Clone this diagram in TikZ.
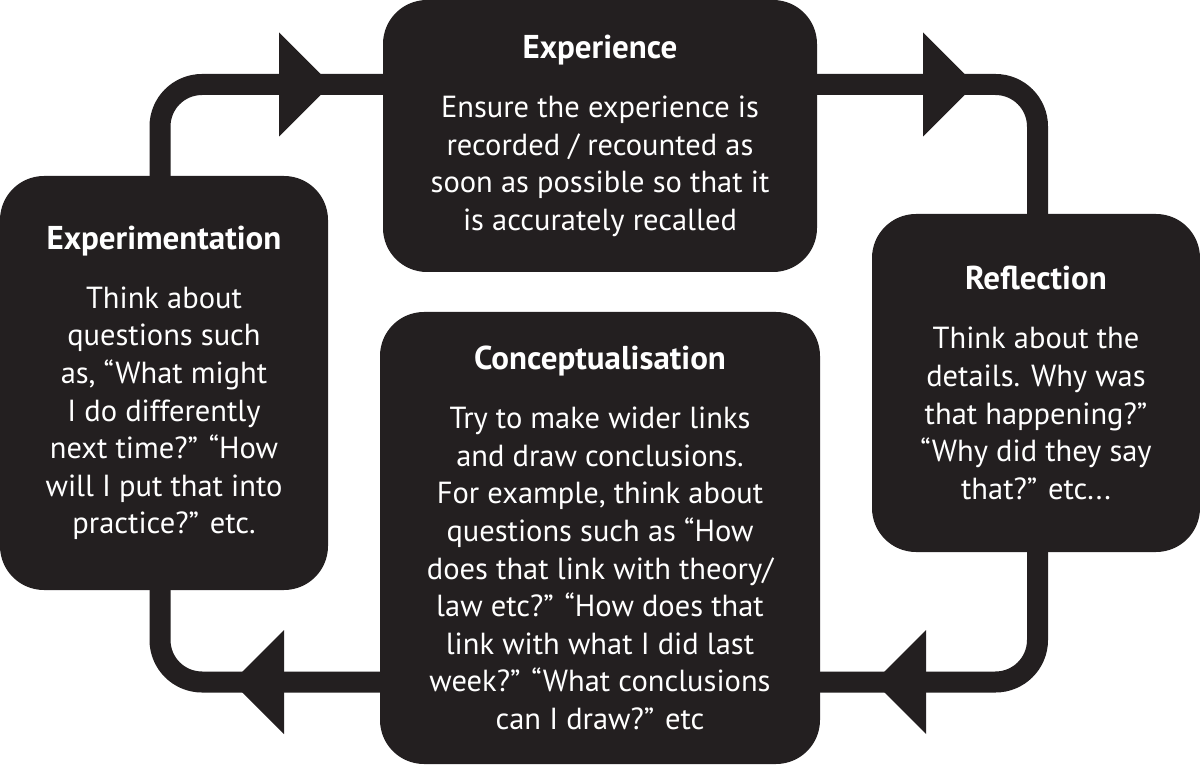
\documentclass[tikz,border=0pt]{standalone}
\usepackage{fontspec}
\setmainfont{PT Sans}
\definecolor{boxc}{HTML}{231F20}
\newcommand\bodyfont{\fontsize{30.5}{37.6}\selectfont}
\newcommand\ttl[1]{{\fontsize{33}{37.6}\selectfont\bfseries #1}}
\begin{document}
\begin{tikzpicture}[x=1pt,y=-1pt,
  box/.style={fill=boxc, rounded corners=44pt, inner sep=0pt, text=white, align=center, font=\bodyfont},
  loopline/.style={draw=boxc, line width=21pt, rounded corners=42pt},
  head/.style={fill=boxc}]
\useasboundingbox[fill=white] (0,0) rectangle (1200,767);

\node[box, minimum width=434pt, minimum height=272pt] (exp) at (600,136)
  {\ttl{Experience}\\[21.4pt]
   Ensure the experience is\\ recorded / recounted as\\ soon as possible so that it\\ is accurately recalled};
\node[box, minimum width=328pt, minimum height=414pt] (expm) at (164,383)
  {\ttl{Experimentation}\\[21.4pt]
   Think about\\ questions such\\ as, “What might\\ I do differently\\ next time?” “How\\ will I put that into\\ practice?” etc.};
\node[box, minimum width=328pt, minimum height=338pt] (refl) at (1036,383)
  {\ttl{Reflection}\\[21.4pt]
   Think about the\\ details. Why was\\ that happening?”\\ “Why did they say\\ that?” etc...};
\node[box, minimum width=440pt, minimum height=452pt] (conc) at (600,538)
  {\ttl{Conceptualisation}\\[21.4pt]
   Try to make wider links\\ and draw conclusions.\\ For example, think about\\ questions such as “How\\ does that link with theory/\\ law etc?” “How does that\\ link with what I did last\\ week?” “What conclusions\\ can I draw?” etc};

\coordinate (tl) at (160,84.5);
\coordinate (tr) at (1037.5,84.5);
\coordinate (br) at (1037.5,682);
\coordinate (bl) at (160,682);

\draw[loopline] (expm.north -| tl) -- (tl) -- (exp.west |- tl);
\draw[loopline] (exp.east |- tr) -- (tr) -- (refl.north -| tr);
\draw[loopline] (refl.south -| br) -- (br) -- (conc.east |- br);
\draw[loopline] (conc.west |- bl) -- (bl) -- (expm.south -| bl);

\coordinate (tA) at (331,84.5);
\coordinate (tB) at (975,84.5);
\coordinate (tC) at (874,682);
\coordinate (tD) at (232,682);
\fill[head] (tA) -- ++(-52,-52) -- ++(0,104) -- cycle;
\fill[head] (tB) -- ++(-52,-52) -- ++(0,104) -- cycle;
\fill[head] (tC) -- ++(52,-52) -- ++(0,104) -- cycle;
\fill[head] (tD) -- ++(52,-52) -- ++(0,104) -- cycle;
\end{tikzpicture}
\end{document}
